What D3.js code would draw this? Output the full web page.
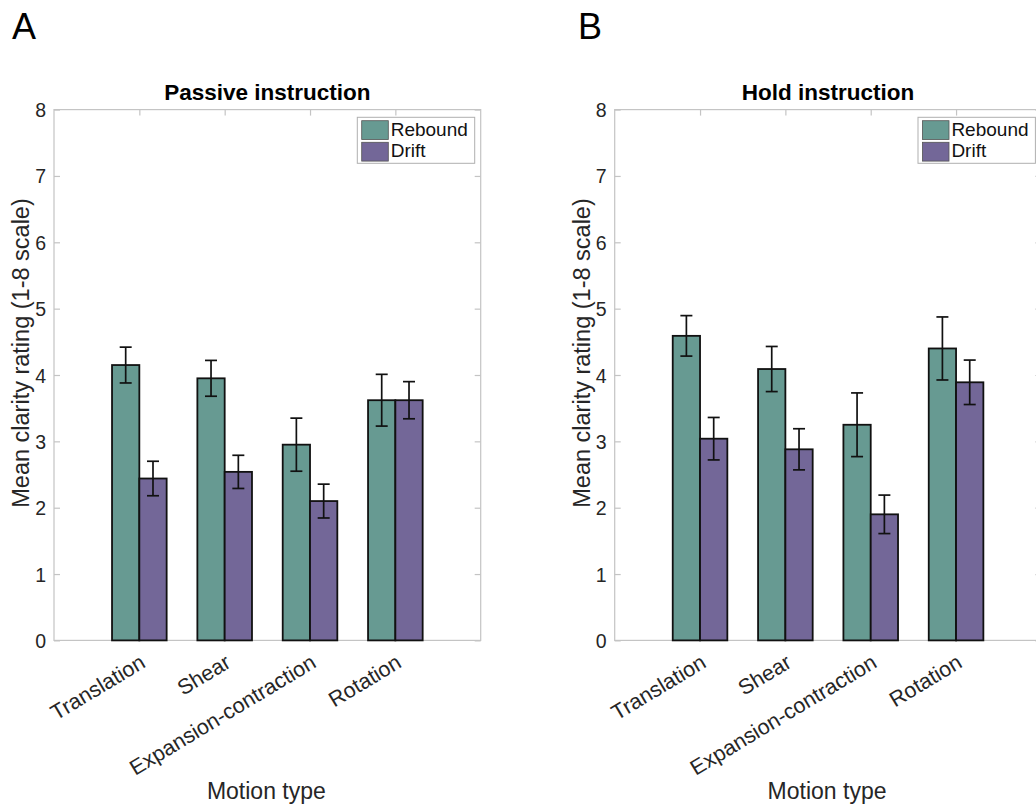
<!DOCTYPE html>
<html>
<head>
<meta charset="utf-8">
<script src="https://cdn.jsdelivr.net/npm/d3@7/dist/d3.min.js"></script>
<style>
  html, body { margin: 0; padding: 0; background: #ffffff; }
  svg { display: block; font-family: "Liberation Sans", Arial, Helvetica, sans-serif; }
</style>
</head>
<body>
<svg id="fig" width="1036" height="808"></svg>
<script>
// Motion categories on the x axis
const categories = ["Translation", "Shear", "Expansion-contraction", "Rotation"];
const seriesNames = ["Rebound", "Drift"];
const yTicks = [0, 1, 2, 3, 4, 5, 6, 7, 8];

// Panel A: passive instruction (mean and standard error)
const passiveRebound    = [4.15, 3.95, 2.95, 3.62];
const passiveReboundErr = [0.27, 0.27, 0.40, 0.39];
const passiveDrift      = [2.44, 2.54, 2.10, 3.62];
const passiveDriftErr   = [0.26, 0.25, 0.255, 0.28];

// Panel B: hold instruction (mean and standard error)
const holdRebound    = [4.59, 4.09, 3.25, 4.40];
const holdReboundErr = [0.305, 0.34, 0.48, 0.475];
const holdDrift      = [3.04, 2.88, 1.90, 3.89];
const holdDriftErr   = [0.32, 0.31, 0.29, 0.335];

const colors = ["#679a92", "#736798"];
const textColor = "#262626";
const boxColor = "#c4c4c4";

const svg = d3.select("#fig");

function panel(opts) {
  const left = opts.left, right = opts.left + 426.7;
  const top = 109.6, bottom = 640.4;
  const x = d3.scaleLinear().domain([0, 5]).range([left, right]);
  const y = d3.scaleLinear().domain([0, 8]).range([bottom, top]);
  const g = svg.append("g");
  const barW = 0.32;

  // axes box
  g.append("rect")
    .attr("x", left).attr("y", top)
    .attr("width", right - left).attr("height", bottom - top)
    .attr("fill", "none").attr("stroke", boxColor).attr("stroke-width", 1.2);

  // inward ticks on all four sides
  const yl = g.append("g").attr("transform", `translate(${left},0)`)
    .call(d3.axisLeft(y).tickValues(yTicks).tickSizeInner(-6).tickSizeOuter(0).tickPadding(8).tickFormat(d3.format("d")));
  const yr = g.append("g").attr("transform", `translate(${right},0)`)
    .call(d3.axisRight(y).tickValues(yTicks).tickSizeInner(-6).tickSizeOuter(0).tickFormat(""));
  const xt = g.append("g").attr("transform", `translate(0,${top})`)
    .call(d3.axisTop(x).tickValues([1, 2, 3, 4]).tickSizeInner(-6).tickSizeOuter(0).tickFormat(""));
  const xb = g.append("g").attr("transform", `translate(0,${bottom})`)
    .call(d3.axisBottom(x).tickValues([1, 2, 3, 4]).tickSizeInner(-6).tickSizeOuter(0).tickFormat((d) => categories[d - 1]));
  [yl, yr, xt, xb].forEach((a) => {
    a.select(".domain").remove();
    a.selectAll(".tick line").attr("stroke", boxColor).attr("stroke-width", 1.2);
  });
  yl.selectAll(".tick text")
    .attr("fill", textColor).attr("font-size", 19.5)
    .attr("font-family", "Liberation Sans, Arial, sans-serif")
    .attr("dy", "0.36em");
  xb.selectAll(".tick text")
    .attr("fill", textColor).attr("font-size", 21.5)
    .attr("font-family", "Liberation Sans, Arial, sans-serif")
    .attr("text-anchor", "end")
    .attr("x", 0).attr("y", 0).attr("dy", 0)
    .attr("transform", "translate(7,26) rotate(-31)");

  // grouped bars
  const series = [opts.rebound, opts.drift];
  const errs = [opts.reboundErr, opts.driftErr];
  series.forEach((vals, s) => {
    g.append("g").selectAll("rect").data(vals).join("rect")
      .attr("x", (d, i) => x(i + 1 + (s === 0 ? -barW : 0)))
      .attr("width", x(barW) - x(0))
      .attr("y", (d) => y(d))
      .attr("height", (d) => y(0) - y(d))
      .attr("fill", colors[s])
      .attr("stroke", "#111").attr("stroke-width", 1.8);
  });

  // error bars
  series.forEach((vals, s) => {
    const cx = (i) => x(i + 1 + (s === 0 ? -barW / 2 : barW / 2));
    const eg = g.append("g").attr("stroke", "#111").attr("stroke-width", 1.7);
    vals.forEach((v, i) => {
      const e = errs[s][i];
      eg.append("line").attr("x1", cx(i)).attr("x2", cx(i)).attr("y1", y(v - e)).attr("y2", y(v + e));
      eg.append("line").attr("x1", cx(i) - 6).attr("x2", cx(i) + 6).attr("y1", y(v - e)).attr("y2", y(v - e));
      eg.append("line").attr("x1", cx(i) - 6).attr("x2", cx(i) + 6).attr("y1", y(v + e)).attr("y2", y(v + e));
    });
  });

  // legend
  const lx = right - 123.4, ly = 117.3;
  const lg = g.append("g");
  lg.append("rect").attr("x", lx).attr("y", ly).attr("width", 117.4).attr("height", 46)
    .attr("fill", "#fff").attr("stroke", "#b0b0b0").attr("stroke-width", 1);
  seriesNames.forEach((name, s) => {
    lg.append("rect").attr("x", lx + 4.4).attr("y", ly + 3.4 + s * 21.6)
      .attr("width", 26.6).attr("height", 18.8)
      .attr("fill", colors[s]).attr("stroke", "#555").attr("stroke-width", 0.8);
    lg.append("text").attr("x", lx + 33.4).attr("y", ly + 19 + s * 21)
      .attr("font-size", 19).attr("fill", "#111").text(name);
  });

  // title and axis labels
  g.append("text").attr("x", (left + right) / 2).attr("y", 100)
    .attr("text-anchor", "middle").attr("font-size", 22.5).attr("font-weight", "bold")
    .attr("fill", "#000").text(opts.title);
  g.append("text").attr("x", (left + right) / 2 - 1).attr("y", 799)
    .attr("text-anchor", "middle").attr("font-size", 23).attr("fill", textColor)
    .text("Motion type");
  g.append("text")
    .attr("transform", `translate(${left - 25},353) rotate(-90)`)
    .attr("text-anchor", "middle").attr("font-size", 23.5).attr("fill", textColor)
    .text("Mean clarity rating (1-8 scale)");

  // panel letter
  svg.append("text").attr("x", opts.letterX).attr("y", 39)
    .attr("font-size", 36).attr("fill", "#000").text(opts.letter);
}

panel({
  left: 54, title: "Passive instruction", letter: "A", letterX: 12,
  rebound: passiveRebound, reboundErr: passiveReboundErr,
  drift: passiveDrift, driftErr: passiveDriftErr
});
panel({
  left: 614.7, title: "Hold instruction", letter: "B", letterX: 578,
  rebound: holdRebound, reboundErr: holdReboundErr,
  drift: holdDrift, driftErr: holdDriftErr
});
</script>
</body>
</html>
